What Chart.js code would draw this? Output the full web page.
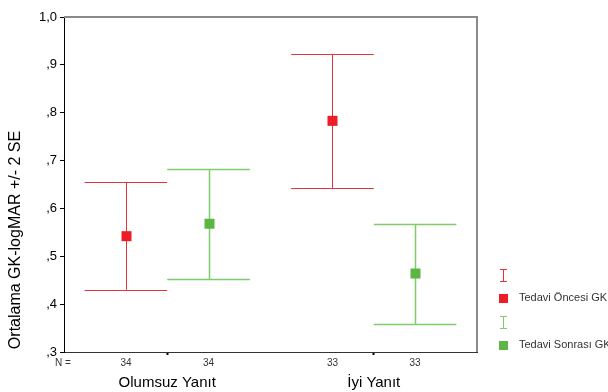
<!DOCTYPE html>
<html>
<head>
<meta charset="utf-8">
<script src="https://cdn.jsdelivr.net/npm/chart.js@4/dist/chart.umd.min.js"></script>
<style>
  html, body { margin: 0; padding: 0; background: #fff; }
  #wrap { width: 608px; height: 392px; }
</style>
</head>
<body>
<div id="wrap"><canvas id="myChart" width="608" height="392"></canvas></div>
<script>
const categories = ["Olumsuz Yanıt", "İyi Yanıt"];
const seriesNames = ["Tedavi Öncesi GK", "Tedavi Sonrası GK"];
const oncesiMean = [0.542, 0.783];
const oncesiLow = [0.430, 0.643];
const oncesiHigh = [0.655, 0.923];
const sonrasiMean = [0.568, 0.464];
const sonrasiLow = [0.453, 0.358];
const sonrasiHigh = [0.682, 0.568];
const oncesiN = [34, 33];
const sonrasiN = [34, 33];
const yTitle = "Ortalama GK-logMAR +/- 2 SE";

const lineColors = ["#e2343a", "#7fcc6c"];
const markColors = ["#ee1c25", "#5cb643"];
const means = [oncesiMean, sonrasiMean];
const counts = [oncesiN, sonrasiN];

const FONT = "'Liberation Sans', Arial, sans-serif";

// error bars, means, frame, N row, y title and legend
const errorBars = {
  id: "errorBars",
  afterDatasetsDraw(chart) {
    const ctx = chart.ctx;
    const y = chart.scales.y;
    const area = chart.chartArea;
    ctx.save();
    chart.data.datasets.forEach((ds, di) => {
      const meta = chart.getDatasetMeta(di);
      meta.data.forEach((bar, i) => {
        const p = bar.getProps(["x", "width"], true);
        const half = p.width / 2;
        const top = y.getPixelForValue(ds.data[i][1]);
        const bot = y.getPixelForValue(ds.data[i][0]);
        ctx.strokeStyle = lineColors[di];
        ctx.lineWidth = di === 0 ? 1 : 1.5;
        ctx.beginPath();
        ctx.moveTo(p.x - half, Math.round(top) + 0.5);
        ctx.lineTo(p.x + half, Math.round(top) + 0.5);
        ctx.moveTo(p.x - half, Math.round(bot) + 0.5);
        ctx.lineTo(p.x + half, Math.round(bot) + 0.5);
        ctx.moveTo(Math.round(p.x) + 0.5, top);
        ctx.lineTo(Math.round(p.x) + 0.5, bot);
        ctx.stroke();
        const m = y.getPixelForValue(means[di][i]);
        ctx.fillStyle = markColors[di];
        ctx.fillRect(Math.round(p.x) - 4.5, m - 5, 10, 10);
        // N row
        ctx.fillStyle = "#333";
        ctx.font = "10px " + FONT;
        ctx.textAlign = "center";
        ctx.textBaseline = "middle";
        ctx.fillText(String(counts[di][i]), p.x, 363);
      });
    });
    ctx.fillStyle = "#333";
    ctx.font = "10px " + FONT;
    ctx.textAlign = "center";
    ctx.fillText("N =", 63, 363);

    // frame top and right
    ctx.strokeStyle = "#8a8a8a";
    ctx.lineWidth = 2;
    ctx.beginPath();
    ctx.moveTo(area.left, area.top);
    ctx.lineTo(area.right, area.top);
    ctx.lineTo(area.right, area.bottom);
    ctx.stroke();

    // y title
    ctx.save();
    ctx.translate(16, 240);
    ctx.rotate(-Math.PI / 2);
    ctx.fillStyle = "#000";
    ctx.font = "16px " + FONT;
    ctx.textAlign = "center";
    ctx.textBaseline = "middle";
    ctx.fillText(yTitle, 0, 0);
    ctx.restore();

    // legend
    const lx = 503;
    const rows = [275, 322];
    rows.forEach((ly, di) => {
      ctx.strokeStyle = lineColors[di];
      ctx.lineWidth = 1;
      ctx.beginPath();
      ctx.moveTo(lx - 3, ly - 6 + 0.5);
      ctx.lineTo(lx + 4, ly - 6 + 0.5);
      ctx.moveTo(lx - 3, ly + 6 + 0.5);
      ctx.lineTo(lx + 4, ly + 6 + 0.5);
      ctx.moveTo(lx + 0.5, ly - 6);
      ctx.lineTo(lx + 0.5, ly + 6);
      ctx.stroke();
      ctx.fillStyle = markColors[di];
      ctx.fillRect(lx - 4, ly + 19, 9, 9);
      ctx.fillStyle = "#333";
      ctx.font = "11px " + FONT;
      ctx.textAlign = "left";
      ctx.textBaseline = "middle";
      ctx.fillText(seriesNames[di], 519, ly + 23);
    });
    ctx.restore();
  },
};

const myCt = document.getElementById("myChart");
const myChart = new Chart(myCt, {
  type: "bar",
  data: {
    labels: categories,
    datasets: [
      {
        label: seriesNames[0],
        data: oncesiLow.map((v, i) => [v, oncesiHigh[i]]),
        backgroundColor: "transparent",
        borderWidth: 0,
      },
      {
        label: seriesNames[1],
        data: sonrasiLow.map((v, i) => [v, sonrasiHigh[i]]),
        backgroundColor: "transparent",
        borderWidth: 0,
      },
    ],
  },
  options: {
    responsive: false,
    animation: false,
    categoryPercentage: 0.8,
    barPercentage: 1.0,
    layout: { padding: { top: 17, right: 131, left: 0, bottom: 0 } },
    plugins: {
      legend: { display: false },
      tooltip: { enabled: false },
    },
    scales: {
      x: {
        offset: true,
        grid: { drawOnChartArea: false, offset: false, tickLength: 3, color: "#000", tickWidth: 2 },
        border: { display: true, color: "#333", width: 1 },
        ticks: { color: "#000", font: { family: FONT, size: 15 }, padding: 19, maxRotation: 0 },
        afterFit(s) { s.height = 40; },
      },
      y: {
        min: 0.3,
        max: 1.0,
        grid: { drawOnChartArea: false, tickLength: 4, color: "#000" },
        border: { display: true, color: "#000", width: 1 },
        ticks: {
          stepSize: 0.1,
          color: "#000",
          padding: 3,
          font: { family: FONT, size: 13 },
          callback: (v) => {
            const s = (Math.round(v * 10) / 10).toFixed(1).replace(".", ",");
            return s.startsWith("0") ? s.slice(1) : s;
          },
        },
        afterFit(s) { s.width = 64; },
      },
    },
  },
  plugins: [errorBars],
});
</script>
</body>
</html>
